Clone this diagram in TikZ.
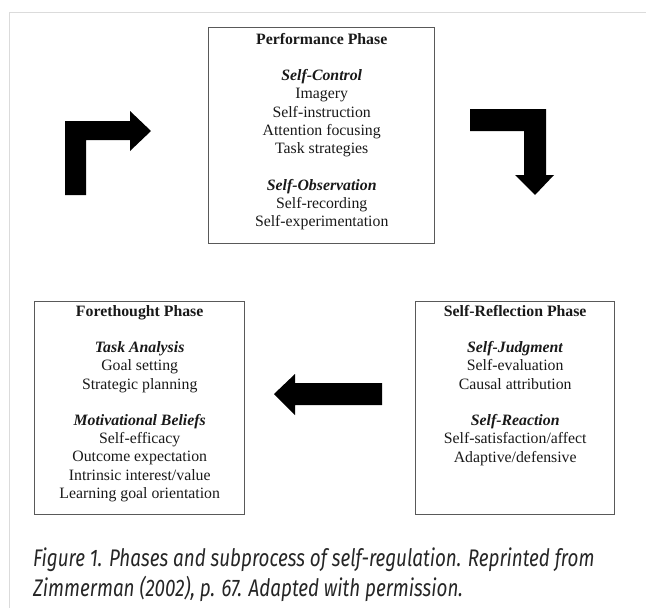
\documentclass[tikz,border=0pt]{standalone}
\usepackage{fontspec}
\setmainfont{Liberation Serif}
\newfontfamily\capfont[FakeStretch=0.785]{Fira Sans}
\usetikzlibrary{positioning}

\begin{document}
\begin{tikzpicture}[x=1pt,y=-1pt,
        phase/.style={draw=black!65,line width=1.4pt,inner sep=0pt,anchor=north west},
        phasetext/.style={anchor=north,align=center,inner sep=0pt,text=black!90,font=\fontsize{15.8}{18.3}\selectfont},
        blockarrow/.style={fill=black}]
            \useasboundingbox (0,0) rectangle (646,608);
            \draw[black!14,line width=1.8pt] (9.5,608) -- (9.5,12.5) -- (646,12.5);
            \node[phase,minimum width=226pt,minimum height=216pt] (perf) at (208,27) {};
            \node[phase,minimum width=210pt,minimum height=213pt] (fore) at (34,301) {};
            \node[phase,minimum width=199pt,minimum height=213pt] (refl) at (415,301) {};
            \node[phasetext,below=6pt of perf.north] (perftext) {\textbf{Performance Phase}\\[18pt]
                \textbf{\textit{Self-Control}}\\Imagery\\Self-instruction\\Attention focusing\\Task strategies\\[18pt]
                \textbf{\textit{Self-Observation}}\\Self-recording\\Self-experimentation};
            \node[phasetext,below=4pt of fore.north] (foretext) {\textbf{Forethought Phase}\\[18pt]
                \textbf{\textit{Task Analysis}}\\Goal setting\\Strategic planning\\[18pt]
                \textbf{\textit{Motivational Beliefs}}\\Self-efficacy\\Outcome expectation\\Intrinsic interest/value\\Learning goal orientation};
            \node[phasetext,below=4pt of refl.north] (refltext) {\textbf{Self-Reflection Phase}\\[18pt]
                \textbf{\textit{Self-Judgment}}\\Self-evaluation\\Causal attribution\\[18pt]
                \textbf{\textit{Self-Reaction}}\\Self-satisfaction/affect\\Adaptive/defensive};
            \fill[blockarrow] (65,195) -- (65,121) -- (130,121) -- (130,111) -- (151,131) -- (130,151) -- (130,140) -- (86,140) -- (86,195) -- cycle;
            \fill[blockarrow] (470,109) -- (546,109) -- (546,175) -- (554,175) -- (535,195) -- (515,175) -- (524,175) -- (524,131) -- (470,131) -- cycle;
            \fill[blockarrow] (382,383) -- (295,383) -- (295,374) -- (274,394) -- (295,415) -- (295,405) -- (382,405) -- cycle;
            \node[anchor=base west,inner sep=0pt,align=left,text=black!85,font=\capfont\itshape\fontsize{24}{30}\selectfont] (caption) at (33,596)
                {Figure 1. Phases and subprocess of self-regulation. Reprinted from\\Zimmerman (2002), p. 67. Adapted with permission.};
        \end{tikzpicture}
\end{document}
